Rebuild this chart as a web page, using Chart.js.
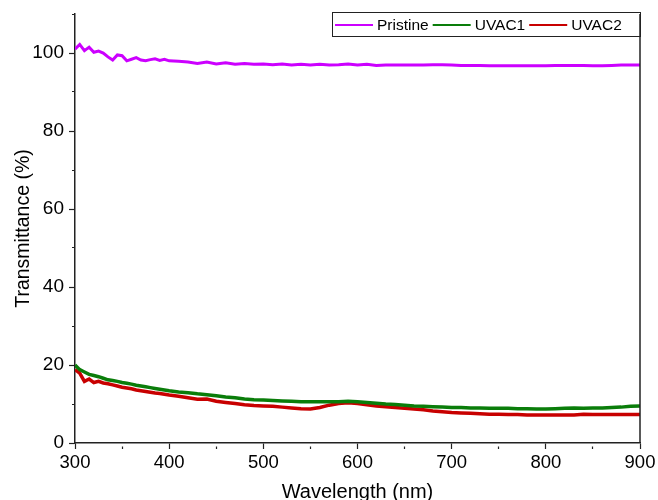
<!DOCTYPE html>
<html>
<head>
<meta charset="utf-8">
<script src="https://cdn.jsdelivr.net/npm/chart.js@4/dist/chart.umd.min.js"></script>
<style>
  html, body { margin: 0; padding: 0; background: #fff; }
  #wrap { width: 658px; height: 500px; }
</style>
</head>
<body>
<div id="wrap"><canvas id="chart"></canvas></div>
<script>
// Wavelength grid (nm)
const wavelengths = [
  300, 305, 310, 315, 320, 325, 330, 335, 340, 345, 350, 355, 360, 365, 370, 375, 380, 385, 390, 395, 400,
  410, 420, 430, 440, 450, 460, 470, 480, 490, 500, 510, 520, 530, 540, 550, 560, 570, 580, 590, 600,
  610, 620, 630, 640, 650, 660, 670, 680, 690, 700, 710, 720, 730, 740, 750, 760, 770, 780, 790, 800,
  810, 820, 830, 840, 850, 860, 870, 880, 890, 900
];

const pristine = [
  101.0, 102.2, 100.6, 101.5, 100.2, 100.5, 100.0, 99.0, 98.2, 99.5, 99.3, 98.0, 98.4, 98.8, 98.2, 98.0, 98.3, 98.5, 98.1, 98.4, 98.0,
  97.9, 97.7, 97.3, 97.7, 97.2, 97.5, 97.1, 97.3, 97.1, 97.2, 97.0, 97.2, 96.9, 97.1, 96.9, 97.1, 96.9, 97.0, 97.2, 96.9,
  97.1, 96.8, 96.9, 96.9, 96.9, 96.9, 96.9, 97.0, 97.0, 96.9, 96.8, 96.8, 96.8, 96.7, 96.7, 96.7, 96.7, 96.7, 96.7, 96.7,
  96.8, 96.8, 96.8, 96.8, 96.7, 96.7, 96.8, 96.9, 96.9, 96.9
];

const uvac1 = [
  20.0, 18.8, 18.2, 17.6, 17.3, 17.0, 16.6, 16.2, 16.0, 15.8, 15.5, 15.3, 15.1, 14.8, 14.6, 14.4, 14.2, 14.0, 13.8, 13.6, 13.4,
  13.1, 12.9, 12.6, 12.4, 12.1, 11.8, 11.6, 11.3, 11.1, 11.0, 10.9, 10.8, 10.7, 10.6, 10.6, 10.6, 10.6, 10.6, 10.7, 10.6,
  10.4, 10.2, 10.0, 9.9, 9.7, 9.5, 9.4, 9.3, 9.2, 9.1, 9.1, 9.0, 9.0, 8.9, 8.9, 8.9, 8.8, 8.8, 8.7, 8.7,
  8.8, 8.9, 9.0, 8.9, 9.0, 9.0, 9.1, 9.2, 9.4, 9.5
];

const uvac2 = [
  18.8, 17.9, 15.8, 16.4, 15.5, 15.8, 15.4, 15.2, 14.9, 14.6, 14.3, 14.1, 13.9, 13.6, 13.4, 13.2, 13.0, 12.8, 12.7, 12.5, 12.3,
  12.0, 11.6, 11.2, 11.3, 10.7, 10.4, 10.1, 9.8, 9.6, 9.5, 9.4, 9.2, 9.0, 8.8, 8.7, 9.1, 9.7, 10.1, 10.3, 10.1,
  9.8, 9.5, 9.3, 9.1, 8.9, 8.7, 8.5, 8.2, 8.0, 7.8, 7.7, 7.6, 7.5, 7.4, 7.4, 7.3, 7.3, 7.2, 7.2, 7.2,
  7.2, 7.2, 7.2, 7.4, 7.3, 7.3, 7.3, 7.3, 7.3, 7.3
];

const seriesNames = ['Pristine', 'UVAC1', 'UVAC2'];
const seriesColors = ['#cc00ff', '#0a7d0a', '#c80000'];

const FONT = '"Liberation Sans", Arial, Helvetica, sans-serif';

function toPoints(values) {
  return wavelengths.map((w, i) => ({ x: w, y: values[i] }));
}

// Boxed legend drawn over the top-right of the plot, plus the right frame line
const frameLegend = {
  id: 'frameLegend',
  afterDraw(chart) {
    const { ctx, chartArea } = chart;
    ctx.save();
    ctx.strokeStyle = '#222';
    ctx.lineWidth = 1.5;
    ctx.beginPath();
    ctx.moveTo(chartArea.right, chartArea.top);
    ctx.lineTo(chartArea.right, chartArea.bottom);
    ctx.stroke();

    ctx.font = '15.5px ' + FONT;
    const lineLen = 38;
    let x = chartArea.right - 305;
    const boxLeft = x - 3;
    const yMid = chartArea.top + 11;
    chart.data.datasets.forEach(ds => {
      ctx.strokeStyle = ds.borderColor;
      ctx.lineWidth = 2;
      ctx.beginPath();
      ctx.moveTo(x, yMid);
      ctx.lineTo(x + lineLen, yMid);
      ctx.stroke();
      x += lineLen + 4;
      ctx.fillStyle = '#000';
      ctx.textBaseline = 'middle';
      ctx.fillText(ds.label, x, yMid + 1);
      x += ctx.measureText(ds.label).width + 4;
    });
    ctx.strokeStyle = '#222';
    ctx.lineWidth = 1;
    ctx.strokeRect(boxLeft + 0.5, chartArea.top - 1.5, chartArea.right - boxLeft, 24);
    ctx.restore();
  }
};

const minorDash = ctx => (ctx.tick && ctx.tick.label === '' ? [3, 3] : []);
const minorOffset = ctx => (ctx.tick && ctx.tick.label === '' ? 3 : 0);

new Chart(document.getElementById('chart'), {
  type: 'line',
  data: {
    datasets: [
      { label: seriesNames[0], data: toPoints(pristine), borderColor: seriesColors[0], borderWidth: 3 },
      { label: seriesNames[1], data: toPoints(uvac1), borderColor: seriesColors[1], borderWidth: 3.5 },
      { label: seriesNames[2], data: toPoints(uvac2), borderColor: seriesColors[2], borderWidth: 3.5 }
    ]
  },
  options: {
    responsive: true,
    maintainAspectRatio: false,
    animation: false,
    events: [],
    elements: { point: { radius: 0 }, line: { tension: 0 } },
    layout: { padding: { top: 14, right: 18, left: 0, bottom: 0 } },
    plugins: { legend: { display: false }, tooltip: { enabled: false } },
    scales: {
      x: {
        type: 'linear',
        min: 300,
        max: 900,
        afterFit: s => { s.height = 57; s.paddingRight = 0; },
        ticks: {
          stepSize: 50,
          color: '#000',
          font: { family: FONT, size: 18.5 },
          padding: 3,
          maxRotation: 0,
          callback: v => (v % 100 === 0 ? String(v) : '')
        },
        grid: {
          drawOnChartArea: false,
          tickLength: 6,
          tickColor: '#222',
          tickWidth: 1.2,
          tickBorderDash: minorDash,
          tickBorderDashOffset: minorOffset
        },
        border: { color: '#222', width: 1.5 },
        title: {
          display: true,
          text: 'Wavelength (nm)',
          color: '#000',
          font: { family: FONT, size: 20 },
          padding: { top: 0, bottom: -4 }
        }
      },
      y: {
        min: 0,
        max: 110,
        afterFit: s => { s.width = 75; s.paddingTop = 0; s.paddingBottom = 0; },
        ticks: {
          stepSize: 10,
          color: '#000',
          font: { family: FONT, size: 19 },
          padding: 5,
          callback: v => (v % 20 === 0 ? String(v) : '')
        },
        grid: {
          drawOnChartArea: false,
          tickLength: 6,
          tickColor: '#222',
          tickWidth: 1.2,
          tickBorderDash: minorDash,
          tickBorderDashOffset: minorOffset
        },
        border: { color: '#222', width: 1.5 },
        title: {
          display: true,
          text: 'Transmittance (%)',
          color: '#000',
          font: { family: FONT, size: 19.5 },
          padding: { top: 12, bottom: 0 }
        }
      }
    }
  },
  plugins: [frameLegend]
});
</script>
</body>
</html>
